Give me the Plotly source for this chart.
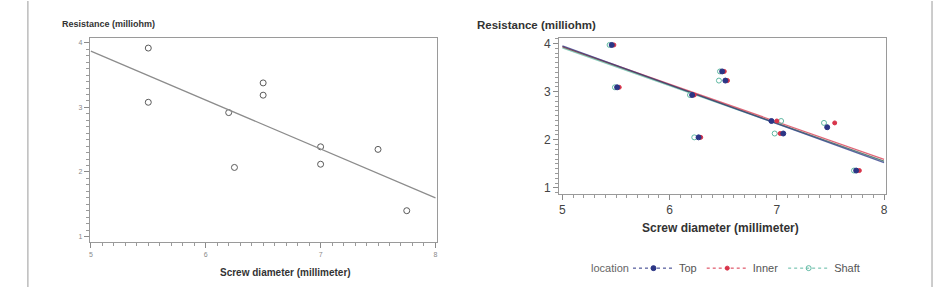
import numpy as np
import plotly.graph_objects as go

# ---------------- data ----------------
# Left panel: resistance vs screw diameter (all locations)
left_x = [5.5, 5.5, 6.2, 6.25, 6.5, 6.5, 7.0, 7.0, 7.5, 7.75]
left_y = [3.92, 3.08, 2.92, 2.07, 3.38, 3.19, 2.39, 2.12, 2.35, 1.40]

# Right panel: grouped by location (slightly offset diameters as drawn)
top_x = [5.46, 5.51, 6.21, 6.27, 6.49, 6.52, 6.95, 7.06, 7.47, 7.74]
top_y = [3.97, 3.09, 2.93, 2.05, 3.42, 3.23, 2.39, 2.13, 2.26, 1.36]
inner_x = [5.48, 5.53, 6.23, 6.29, 6.51, 6.54, 7.00, 7.03, 7.54, 7.77]
inner_y = [3.97, 3.09, 2.93, 2.05, 3.42, 3.23, 2.39, 2.13, 2.35, 1.36]
shaft_x = [5.44, 5.49, 6.19, 6.23, 6.47, 6.46, 7.04, 6.98, 7.44, 7.72]
shaft_y = [3.97, 3.09, 2.93, 2.05, 3.42, 3.23, 2.39, 2.13, 2.35, 1.36]

x_ticks = [5, 6, 7, 8]
y_ticks = [1, 2, 3, 4]
y_title = "Resistance (milliohm)"
x_title = "Screw diameter (millimeter)"
legend_title = "location"

FONT = "Liberation Sans, Arial, sans-serif"
W, H = 939, 288

fig = go.Figure()

# ---- left panel ----
fig.add_trace(go.Scatter(
    x=left_x, y=left_y, mode="markers", xaxis="x", yaxis="y",
    marker=dict(symbol="circle-open", size=6, color="#5a5a5a", line=dict(width=1)),
    showlegend=False, hoverinfo="x+y"))
b, a = np.polyfit(left_x, left_y, 1)
fx = np.array([5.0, 8.0])
fig.add_trace(go.Scatter(
    x=fx, y=a + b * fx, mode="lines", xaxis="x", yaxis="y",
    line=dict(color="#8c8c8c", width=1.2), showlegend=False, hoverinfo="skip"))

# ---- right panel ----
groups = [
    ("Top", top_x, top_y, "#2b3585", "circle", 5),
    ("Inner", inner_x, inner_y, "#d8344a", "circle", 4),
    ("Shaft", shaft_x, shaft_y, "#5fb9a3", "circle-open", 5),
]
for name, gx, gy, col, sym, sz in reversed(groups):
    gb, ga = np.polyfit(gx, gy, 1)
    fig.add_trace(go.Scatter(
        x=fx, y=ga + gb * fx, mode="lines", xaxis="x2", yaxis="y2",
        line=dict(color=col, width=1.3), opacity=0.75,
        showlegend=False, hoverinfo="skip"))
fig.add_trace(go.Scatter(
    x=fx, y=np.poly1d(np.polyfit(top_x + inner_x + shaft_x, top_y + inner_y + shaft_y, 1))(fx),
    mode="lines", xaxis="x2", yaxis="y2",
    line=dict(color="#444444", width=1), opacity=0.6, showlegend=False, hoverinfo="skip"))
for name, gx, gy, col, sym, sz in reversed(groups):
    fig.add_trace(go.Scatter(
        x=gx, y=gy, mode="markers", xaxis="x2", yaxis="y2",
        marker=dict(symbol=sym, size=sz, color=col, line=dict(width=1, color=col)),
        name=name, showlegend=False))
# legend entries (line + marker samples)
for name, gx, gy, col, sym, sz in groups:
    fig.add_trace(go.Scatter(
        x=[None], y=[None], mode="lines+markers", xaxis="x2", yaxis="y2",
        marker=dict(symbol=sym, size=sz, color=col, line=dict(width=1, color=col)),
        line=dict(color=col, width=1, dash="dot"),
        name=name, showlegend=True))

def px_x(p):
    return p / W

def px_y(p):
    return 1 - p / H

axis_common = dict(showgrid=False, zeroline=False, showline=True, mirror=True,
                   linecolor="#9a9a9a", linewidth=1, ticks="outside",
                   tickcolor="#8a8a8a")
minor = dict(dtick=0.1, ticklen=3, tickcolor="#9a9a9a", ticks="outside", tickwidth=1,
             showgrid=False)

fig.update_layout(
    width=W, height=H, margin=dict(l=0, r=0, t=0, b=0),
    paper_bgcolor="white", plot_bgcolor="white",
    font=dict(family=FONT, color="#555555"),
    xaxis=dict(domain=[px_x(89), px_x(437)], range=[4.99, 8.01], anchor="y",
               tickvals=x_ticks, ticklen=5, tickfont=dict(size=7, color="#8a8a8a"),
               minor=minor, **axis_common),
    yaxis=dict(domain=[px_y(243), px_y(37)], range=[0.91, 4.08], anchor="x",
               tickvals=y_ticks, ticklen=5, tickfont=dict(size=7, color="#8a8a8a"),
               minor=minor, **axis_common),
    xaxis2=dict(domain=[px_x(560), px_x(888)], range=[4.97, 8.02], anchor="y2",
                tickvals=x_ticks, ticklen=5, tickfont=dict(size=12, color="#444444"),
                minor=minor, **axis_common),
    yaxis2=dict(domain=[px_y(194), px_y(37)], range=[0.88, 4.12], anchor="x2",
                tickvals=y_ticks, ticklen=5, tickfont=dict(size=12, color="#444444"),
                minor=minor, **axis_common),
    legend=dict(orientation="h", x=px_x(629), y=px_y(269), xanchor="left", yanchor="middle",
                font=dict(size=11, color="#555555"), itemwidth=41,
                bgcolor="rgba(0,0,0,0)", tracegroupgap=0),
    shapes=[
        dict(type="line", xref="paper", yref="paper", x0=px_x(27), x1=px_x(27), y0=0, y1=1,
             line=dict(color="#9a9a9a", width=1)),
        dict(type="line", xref="paper", yref="paper", x0=px_x(934), x1=px_x(934), y0=0, y1=1,
             line=dict(color="#9a9a9a", width=1)),
    ],
    annotations=[
        dict(text="<b>" + y_title + "</b>", xref="paper", yref="paper",
             x=px_x(59), y=px_y(23), xanchor="left", yanchor="middle", showarrow=False,
             font=dict(size=9, color="#333333")),
        dict(text="<b>" + x_title + "</b>", xref="paper", yref="paper",
             x=px_x(285), y=px_y(273), xanchor="center", yanchor="middle", showarrow=False,
             font=dict(size=10, color="#333333")),
        dict(text="<b>" + y_title + "</b>", xref="paper", yref="paper",
             x=px_x(476), y=px_y(24), xanchor="left", yanchor="middle", showarrow=False,
             font=dict(size=11.5, color="#333333")),
        dict(text="<b>" + x_title + "</b>", xref="paper", yref="paper",
             x=px_x(722), y=px_y(229), xanchor="center", yanchor="middle", showarrow=False,
             font=dict(size=12, color="#333333")),
        dict(text=legend_title, xref="paper", yref="paper",
             x=px_x(590), y=px_y(269), xanchor="left", yanchor="middle", showarrow=False,
             font=dict(size=11, color="#666666")),
    ],
)

fig.write_html("out.html")
